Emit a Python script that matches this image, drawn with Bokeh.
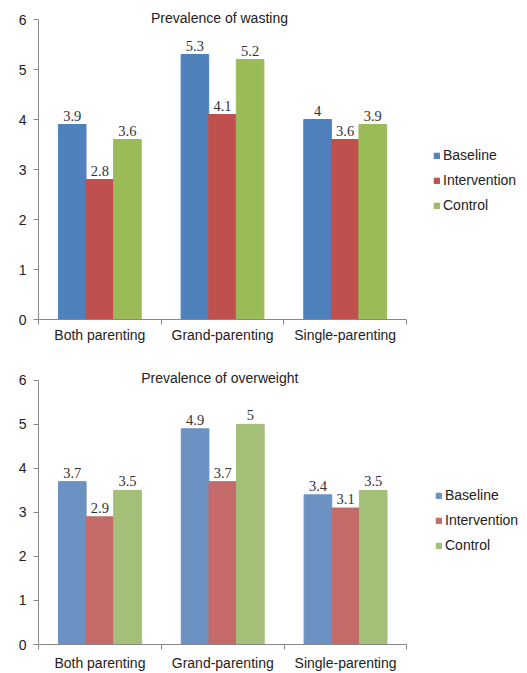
from bokeh.plotting import figure
from bokeh.models import ColumnDataSource, FixedTicker, Legend, LegendItem, Label
from bokeh.layouts import column
from bokeh.core.properties import value
from bokeh.embed import file_html
from bokeh.resources import INLINE

categories = ["Both parenting", "Grand-parenting", "Single-parenting"]
series = ["Baseline", "Intervention", "Control"]
wasting_baseline = [3.9, 5.3, 4.0]
wasting_intervention = [2.8, 4.1, 3.6]
wasting_control = [3.6, 5.2, 3.9]
overweight_baseline = [3.7, 4.9, 3.4]
overweight_intervention = [2.9, 3.7, 3.1]
overweight_control = [3.5, 5.0, 3.5]
y_ticks = [0, 1, 2, 3, 4, 5, 6]

colors_top = ["#4F81BD", "#C0504D", "#9BBB59"]
colors_bottom = ["#6B92C2", "#C46B6A", "#A3BF78"]

SANS = "Liberation Sans"
SERIF = "Liberation Serif"
W = 527


def fmt(v):
    return ("%g" % v)


def make_chart(title, data, colors, height, top_px, bottom_px, left_px, right_px, legend_xy, standoff):
    # frame covers from left_px to the right edge and from the top edge to bottom_px
    ncat = len(categories)
    x_end = ncat * (W - left_px) / (right_px - left_px)
    y_end = 6 * bottom_px / (bottom_px - top_px)
    p = figure(width=W, height=height, output_backend="svg", toolbar_location=None,
               x_range=(0, x_end), y_range=(0, y_end),
               min_border_left=left_px, min_border_right=0,
               min_border_top=0, min_border_bottom=height - bottom_px)
    p.outline_line_color = None
    p.xgrid.visible = False
    p.ygrid.visible = False
    p.background_fill_color = "white"

    bw = 0.225
    items = []
    for k, (name, vals, col) in enumerate(zip(series, data, colors)):
        xs = [i + 0.5 + (k - 1) * bw for i in range(ncat)]
        src = ColumnDataSource(dict(x=xs, top=vals, lab=[fmt(v) for v in vals]))
        r = p.vbar(x="x", top="top", width=bw, source=src, fill_color=col, line_color=col)
        p.text(x="x", y="top", text="lab", source=src, text_align="center",
               text_baseline="bottom", y_offset=-4, text_font=value(SERIF),
               text_font_size="14.5px", text_color="#333333")
        items.append(LegendItem(label=name, renderers=[r]))

    legend = Legend(items=items, location=legend_xy, orientation="vertical",
                    border_line_color=None, background_fill_alpha=0,
                    padding=0, margin=0, spacing=9, label_height=16,
                    glyph_width=7, glyph_height=7, label_standoff=3,
                    label_text_font=SANS, label_text_font_size="14px",
                    label_text_color="#222222")
    p.add_layout(legend, "center")

    p.add_layout(Label(x=ncat / 2, y=6, text=title, text_align="center", text_baseline="middle",
                       x_offset=-3, y_offset=2, text_font=SANS, text_font_size="14px",
                       text_color="#222222"))

    xa = p.xaxis[0]
    xa.bounds = (0, ncat)
    xa.ticker = FixedTicker(ticks=[i + 0.5 for i in range(ncat)],
                            minor_ticks=list(range(ncat + 1)))
    xa.major_label_overrides = {i + 0.5: c for i, c in enumerate(categories)}
    xa.major_tick_out = 0
    xa.major_tick_in = 0
    xa.minor_tick_out = 5
    xa.minor_tick_in = 0
    xa.minor_tick_line_color = "#888888"
    xa.axis_line_color = "#888888"
    xa.major_label_standoff = standoff
    xa.major_label_text_font = SANS
    xa.major_label_text_font_size = "14px"
    xa.major_label_text_color = "#222222"

    ya = p.yaxis[0]
    ya.bounds = (0, 6)
    ya.ticker = FixedTicker(ticks=y_ticks, minor_ticks=[])
    ya.major_tick_out = 5
    ya.major_tick_in = 0
    ya.major_tick_line_color = "#888888"
    ya.axis_line_color = "#888888"
    ya.major_label_standoff = 7
    ya.major_label_text_font = SANS
    ya.major_label_text_font_size = "14px"
    ya.major_label_text_color = "#222222"
    return p


p1 = make_chart("Prevalence of wasting",
                [wasting_baseline, wasting_intervention, wasting_control],
                colors_top, 345, 19, 319, 38, 406, (395, 106), 2)
p2 = make_chart("Prevalence of overweight",
                [overweight_baseline, overweight_intervention, overweight_control],
                colors_bottom, 328, 35, 300, 36, 406, (397, 91), 5)

layout = column(p1, p2, spacing=0)
open("out.html", "w").write(file_html(layout, INLINE))
